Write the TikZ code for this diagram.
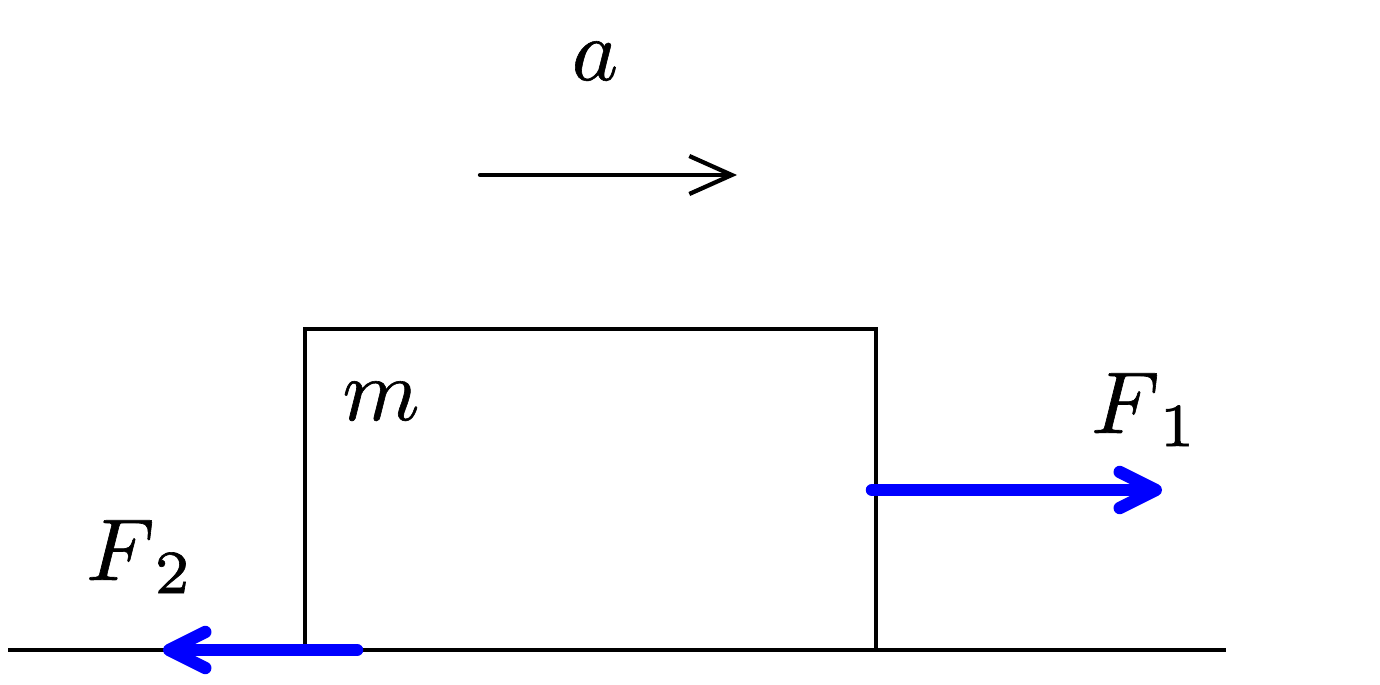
\documentclass[tikz,border=0pt]{standalone}
\usetikzlibrary{arrows.meta}
\newcommand{\mylabelscale}[1]{\scalebox{5}{\special{pdf:code q 2 Tr 0.07 w}#1\special{pdf:code Q}}}
\begin{document}
\begin{tikzpicture}[x=0.02cm,y=-0.02cm,
  thinline/.style={line width=0.08cm,black},
  force/.style={line width=0.25cm,color={rgb,255:red,0;green,0;blue,255},line cap=round,
    -{Straight Barb[length=0.72cm,width=0.72cm,round]}},
  accel/.style={line width=0.085cm,black,line cap=round,
    -{Straight Barb[length=0.85cm,width=0.76cm]}},
  lbl/.style={inner sep=0pt,anchor=base,font=\fontsize{10}{12}\selectfont}]
\useasboundingbox (0,0) rectangle (1380,685);
% ground
\coordinate (g1) at (8,650);
\coordinate (g2) at (1226,650);
\draw[thinline] (g1) -- (g2);
% block
\node[draw,thinline,minimum width=11.42cm,minimum height=6.42cm,inner sep=0pt,outer sep=0pt,anchor=south west] (box) at (305,650) {};
% acceleration arrow
\coordinate (a1) at (480,175);
\coordinate (a2) at (737,175);
\draw[accel] (a1) -- (a2);
\node[lbl] (alab) at (595,80) {\mylabelscale{$a$}};
\node[lbl] (mlab) at (381,420) {\mylabelscale{$m$}};
% forces
\coordinate (f1s) at (872,490);
\coordinate (f1e) at (1162,490);
\draw[force] (f1s) -- (f1e);
\coordinate (f2s) at (357,650);
\coordinate (f2e) at (163,650);
\draw[force] (f2s) -- (f2e);
\node[lbl] (F1lab) at (1145,433) {\mylabelscale{$F_{\mkern3mu 1}$}};
\node[lbl] (F2lab) at (140,580) {\mylabelscale{$F_{\mkern3mu 2}$}};
\end{tikzpicture}
\end{document}
